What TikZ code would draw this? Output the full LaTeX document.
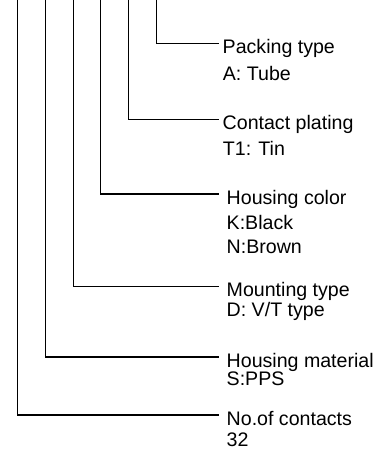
\documentclass[tikz,border=0pt]{standalone}
\usepackage{fontspec}
\setmainfont{Liberation Sans}
\usetikzlibrary{positioning}
\tikzset{
  lead/.style={line width=1.5pt, black},
  ttl/.style={anchor=west, inner ysep=0pt, inner xsep=8pt, text height=20pt, text depth=0pt,
              font=\fontsize{19.6}{22}\selectfont},
  ttlnear/.style={ttl, inner xsep=4pt},
  val/.style={anchor=base west, inner sep=0pt, font=\fontsize{19.6}{22}\selectfont}
}
\begin{document}
\begin{tikzpicture}[x=1pt, y=-1pt]
\useasboundingbox (0,0) rectangle (383,453);
\foreach \x/\n in {17.3/1, 45.7/2, 73.3/3, 100.7/4, 128.3/5, 156.7/6}
  \coordinate (top\n) at (\x,0);
\node[ttlnear] (pack) at (218.5,43.7) {Packing type};
\node[val] (packv) at (222.7,80) {A: Tube};
\node[ttlnear] (plat) at (218.5,119.3) {Contact plating};
\node[val] (platv) at (222.7,155.5) {T1: Tin};
\node[ttl] (colr) at (218.5,194) {Housing color};
\node[val] (colk) at (226.5,229.3) {K:Black};
\node[val] (coln) at (226.5,253.3) {N:Brown};
\node[ttl] (mnt) at (218.5,286.7) {Mounting type};
\node[val] (mntv) at (226.5,316) {D: V/T type};
\node[ttl] (matl) at (218.5,357) {Housing material};
\node[val] (matlv) at (226.5,385) {S:PPS};
\node[ttl] (cnt) at (218.5,415) {No.of contacts};
\node[val] (cntv) at (226.5,446.7) {32};
\draw[lead] (top6) |- (pack.west);
\draw[lead] (top5) |- (plat.west);
\draw[lead] (top4) |- (colr.west);
\draw[lead] (top3) |- (mnt.west);
\draw[lead] (top2) |- (matl.west);
\draw[lead] (top1) |- (cnt.west);
\end{tikzpicture}
\end{document}
